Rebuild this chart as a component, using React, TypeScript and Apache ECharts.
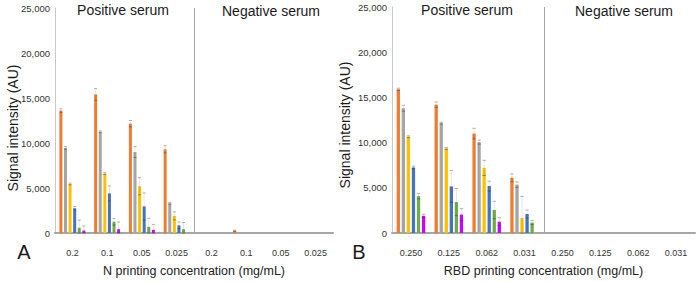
import React, { useEffect, useRef } from "react";
import * as echarts from "echarts";

// ---------- data ----------
const categoriesA = ["0.2", "0.1", "0.05", "0.025", "0.2", "0.1", "0.05", "0.025"];
const categoriesB = ["0.250", "0.125", "0.062", "0.031", "0.250", "0.125", "0.062", "0.031"];
const yTicks = [0, 5000, 10000, 15000, 20000, 25000];
// divider between positive serum (first 4 categories) and negative serum
const dividerAfterIndex = [3];

// Panel A (N) – positive serum (4) then negative serum (4)
const orangeA = [13600, 15400, 12150, 9300, 0, 250, 0, 0];
const grayA = [9450, 11250, 9000, 3300, 0, 0, 0, 0];
const yellowA = [5450, 6600, 5200, 1900, 0, 0, 0, 0];
const blueA = [2750, 4400, 2950, 850, 0, 0, 0, 0];
const greenA = [580, 1250, 680, 420, 0, 0, 0, 0];
const magentaA = [270, 420, 350, null, 0, 0, 0, 0];

const errOrangeA = [200, 650, 350, 400, 0, 60, 0, 0];
const errGrayA = [150, 100, 600, 100, 0, 0, 0, 0];
const errYellowA = [100, 100, 950, 450, 0, 0, 0, 0];
const errBlueA = [190, 830, 1500, 370, 0, 0, 0, 0];
const errGreenA = [850, 370, 950, 740, 0, 0, 0, 0];
const errMagentaA = [500, 800, 600, null, 0, 0, 0, 0];

// Panel B (RBD)
const orangeB = [15900, 14200, 11000, 6100, 0, 0, 0, 0];
const grayB = [13800, 12150, 10050, 5350, 0, 0, 0, 0];
const yellowB = [10650, 9350, 7200, 1650, 0, 0, 0, 0];
const blueB = [7250, 5150, 5200, 2100, 0, 0, 0, 0];
const greenB = [4080, 3420, 2550, 1150, 0, 0, 0, 0];
const magentaB = [1900, 2030, 1250, null, 0, 0, 0, 0];

const errOrangeB = [120, 300, 580, 440, 0, 0, 0, 0];
const errGrayB = [330, 100, 220, 300, 0, 0, 0, 0];
const errYellowB = [100, 100, 840, 2400, 0, 0, 0, 0];
const errBlueB = [150, 1760, 550, 440, 0, 0, 0, 0];
const errGreenB = [300, 1500, 960, 220, 0, 0, 0, 0];
const errMagentaB = [180, 660, 440, null, 0, 0, 0, 0];

const colors = ["#ED7D31", "#A5A5A5", "#FFC000", "#4472C4", "#70AD47", "#CC00FF"];

const FONT = "'Liberation Sans', Arial, Helvetica, sans-serif";

function buildPanel(
  idx: number,
  values: (number | null)[][],
  errors: (number | null)[][],
  barW: number,
  gapRatio: number
) {
  const series: any[] = [];
  values.forEach((vals, k) => {
    series.push({
      type: "bar",
      xAxisIndex: idx,
      yAxisIndex: idx,
      data: vals,
      barWidth: barW,
      barGap: gapRatio * 100 + "%",
      itemStyle: { color: colors[k] },
      z: 2,
    });
  });
  values.forEach((vals, k) => {
    const offset = (k - 2.5) * barW * (1 + gapRatio);
    const data = vals.map((v, i) => [i, v == null ? 0 : v, errors[k][i] == null ? 0 : errors[k][i]]);
    series.push({
      type: "custom",
      xAxisIndex: idx,
      yAxisIndex: idx,
      data,
      z: 5,
      silent: true,
      renderItem: (params: any, api: any) => {
        const cat = api.value(0);
        const v = api.value(1);
        const e = api.value(2);
        if (!e) return null;
        const top = api.coord([cat, v + e]);
        const bot = api.coord([cat, Math.max(0, v - e)]);
        const x = top[0] + offset;
        const hw = barW / 2;
        return {
          type: "group",
          children: [
            { type: "line", shape: { x1: x, y1: top[1], x2: x, y2: bot[1] }, style: { stroke: "rgba(110,110,110,0.35)", lineWidth: 0.5 } },
            { type: "line", shape: { x1: x - hw, y1: top[1], x2: x + hw, y2: top[1] }, style: { stroke: "rgba(90,90,90,0.6)", lineWidth: 0.8 } },
            { type: "line", shape: { x1: x - hw, y1: bot[1], x2: x + hw, y2: bot[1] }, style: { stroke: "rgba(60,60,60,0.6)", lineWidth: 0.8 } },
          ],
        };
      },
    });
  });
  // divider line between positive and negative serum groups
  series.push({
    type: "custom",
    xAxisIndex: idx,
    yAxisIndex: idx,
    data: dividerAfterIndex.map((i) => [i, 0]),
    z: 1,
    silent: true,
    renderItem: (params: any, api: any) => {
      const i = api.value(0);
      const a = api.coord([i, yTicks[0]]);
      const b = api.coord([i + 1, yTicks[yTicks.length - 1]]);
      const x = Math.round((a[0] + b[0]) / 2) + 0.5;
      return {
        type: "line",
        shape: { x1: x, y1: b[1], x2: x, y2: a[1] },
        style: { stroke: "#a6a6a6", lineWidth: 1 },
      };
    },
  });
  return series;
}

function axisPair(idx: number, cats: string[], name: string) {
  const x = {
    type: "category",
    gridIndex: idx,
    data: cats,
    name,
    nameLocation: "middle",
    nameGap: 31,
    nameTextStyle: { fontSize: 12.5, color: "#222", fontFamily: FONT },
    axisLine: { show: true, lineStyle: { color: "#a6a6a6", width: 2 } },
    axisTick: { show: false },
    axisLabel: { interval: 0, fontSize: 9, margin: 15, color: "#333", fontFamily: FONT },
    splitLine: { show: false },
  };
  const y = {
    type: "value",
    gridIndex: idx,
    min: yTicks[0],
    max: yTicks[yTicks.length - 1],
    interval: yTicks[1] - yTicks[0],
    axisLine: { show: true, lineStyle: { color: "#c8c8c8", width: 1 } },
    axisTick: { show: false },
    splitLine: { show: false },
    axisLabel: {
      fontSize: 9.5,
      margin: 5,
      color: "#333",
      fontFamily: FONT,
      formatter: (v: number) => v.toLocaleString("en-US"),
    },
  };
  return { x, y };
}

function txt(text: string, x: number, y: number, size: number, rotation = 0) {
  return {
    type: "text",
    x,
    y,
    rotation,
    silent: true,
    style: {
      text,
      fontSize: size,
      fontFamily: FONT,
      fill: "#1a1a1a",
      align: "center",
      verticalAlign: "middle",
    },
  };
}

export default function App() {
  const ref = useRef<HTMLDivElement>(null);
  useEffect(() => {
    if (!ref.current) return;
    const chart = echarts.init(ref.current, null, { renderer: "svg" });
    const a = axisPair(0, categoriesA, "N printing concentration (mg/mL)");
    const b = axisPair(1, categoriesB, "RBD printing concentration (mg/mL)");
    const seriesA = buildPanel(
      0,
      [orangeA, grayA, yellowA, blueA, greenA, magentaA],
      [errOrangeA, errGrayA, errYellowA, errBlueA, errGreenA, errMagentaA],
      3,
      0.53
    );
    const seriesB = buildPanel(
      1,
      [orangeB, grayB, yellowB, blueB, greenB, magentaB],
      [errOrangeB, errGrayB, errYellowB, errBlueB, errGreenB, errMagentaB],
      3.3,
      0.53
    );
    chart.setOption({
      animation: false,
      backgroundColor: "#ffffff",
      grid: [
        { left: 55, top: 8, width: 278, height: 227.5, containLabel: false },
        { left: 392, top: 7, width: 303, height: 227, containLabel: false },
      ],
      xAxis: [a.x, b.x],
      yAxis: [a.y, b.y],
      series: [...seriesA, ...seriesB],
      graphic: [
        txt("Positive serum", 123, 10, 14),
        txt("Negative serum", 271, 11, 14),
        txt("Positive serum", 467, 10, 14),
        txt("Negative serum", 624, 11, 14),
        txt("A", 24, 252, 20),
        txt("B", 359, 252, 20),
        txt("Signal intensity (AU)", 12.5, 128, 14, Math.PI / 2),
        txt("Signal intensity (AU)", 345, 125, 14, Math.PI / 2),
      ],
    });
    return () => chart.dispose();
  }, []);
  return (
    <div
      ref={ref}
      style={{ position: "fixed", left: 0, top: 0, width: 697, height: 282, background: "#fff" }}
    />
  );
}
